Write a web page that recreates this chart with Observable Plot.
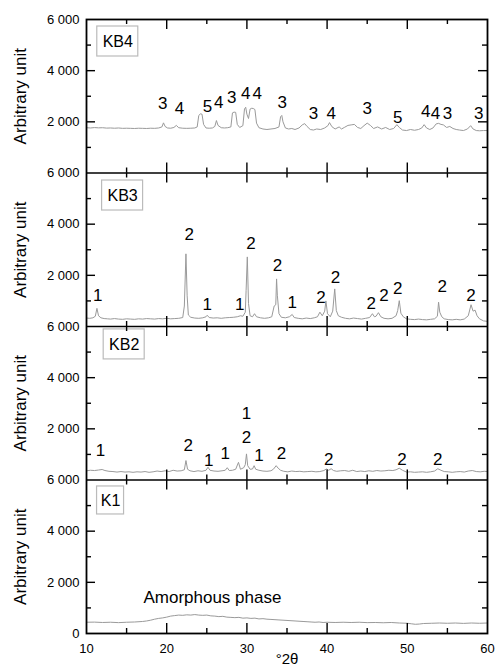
<!DOCTYPE html>
<html><head><meta charset="utf-8">
<script src="https://cdn.jsdelivr.net/npm/d3@7"></script>
<script src="https://cdn.jsdelivr.net/npm/@observablehq/plot@0.6"></script>
<style>body{margin:0;background:#fff;} #chart svg{display:block;} #pad{position:absolute;left:0;top:0;width:2px;height:2px;background:#fff;}</style>
</head><body><div id="chart"></div><div id="pad"></div>
<script>
// ---- data (2θ, arbitrary units) ----
const panels = ["KB4", "KB3", "KB2", "K1"];
const panelOffsets = [18000, 12000, 6000, 0];

const kb4 = [[10,1770],[10.5,1760],[11,1775],[11.5,1765],[12,1770],[12.5,1755],[13,1760],[13.5,1750],[14,1760],[14.5,1745],[15,1750],[15.5,1745],[16,1740],[16.5,1750],[17,1745],[17.5,1740],[18,1750],[18.5,1745],[19,1760],[19.4,1800],[19.6,1960],[19.8,1820],[20.1,1760],[20.5,1750],[20.9,1780],[21.2,1860],[21.5,1770],[22,1750],[22.5,1745],[23,1750],[23.5,1760],[23.8,1800],[24.0,2250],[24.2,2310],[24.4,2300],[24.6,1900],[24.9,1760],[25.3,1750],[25.7,1760],[26.0,1820],[26.2,2050],[26.4,1860],[26.8,1770],[27.2,1760],[27.6,1770],[28.0,1800],[28.2,2350],[28.4,2380],[28.6,2370],[28.8,1900],[29.1,1780],[29.5,1850],[29.7,2500],[29.85,2570],[30.0,2300],[30.2,2130],[30.4,2500],[30.6,2530],[30.8,2520],[31.0,2480],[31.2,1950],[31.5,1770],[32,1720],[32.5,1700],[33,1720],[33.5,1740],[34.0,1800],[34.2,2200],[34.35,2250],[34.5,2000],[34.8,1760],[35.2,1720],[35.6,1740],[36,1700],[36.5,1760],[36.9,1880],[37.2,1930],[37.5,1820],[37.9,1700],[38.3,1680],[38.7,1720],[39.2,1700],[39.7,1760],[40.1,1850],[40.3,1970],[40.6,1810],[41,1720],[41.5,1800],[41.8,1720],[42.2,1790],[42.6,1860],[43.0,1880],[43.4,1900],[43.8,1780],[44.2,1740],[44.6,1850],[45.0,1950],[45.4,1860],[45.8,1740],[46.3,1800],[46.8,1720],[47.3,1780],[47.8,1700],[48.3,1740],[48.7,1890],[49.0,1780],[49.4,1680],[49.9,1660],[50.4,1700],[50.9,1670],[51.4,1700],[51.8,1760],[52.1,1890],[52.4,1760],[52.8,1700],[53.2,1760],[53.6,1920],[53.9,1940],[54.2,1900],[54.5,1880],[54.9,1780],[55.3,1820],[55.7,1740],[56.1,1700],[56.5,1680],[57,1660],[57.5,1720],[57.9,1850],[58.2,1720],[58.6,1660],[59,1650],[59.5,1660],[60,1660]];

const kb3 = [[10,330],[10.4,320],[10.8,340],[11.1,400],[11.3,710],[11.5,420],[11.8,340],[12.2,310],[12.6,300],[13,290],[13.5,310],[14,290],[14.5,280],[15,300],[15.5,290],[16,280],[16.5,300],[17,290],[17.5,310],[18,300],[18.5,290],[19,310],[19.5,300],[20,320],[20.5,300],[21,310],[21.5,320],[22,350],[22.2,800],[22.4,2840],[22.55,1200],[22.7,450],[23,360],[23.5,330],[24,320],[24.5,340],[24.9,380],[25.05,440],[25.3,350],[25.8,330],[26.3,340],[26.8,320],[27.3,340],[27.8,350],[28.3,360],[28.8,380],[29.2,420],[29.5,400],[29.8,560],[29.9,1400],[30.05,2720],[30.2,900],[30.4,420],[30.7,380],[30.95,500],[31.2,380],[31.7,340],[32.2,320],[32.7,340],[33.1,380],[33.4,800],[33.6,850],[33.7,1860],[33.8,1200],[34.0,500],[34.3,360],[34.8,340],[35.3,380],[35.65,470],[35.9,350],[36.4,320],[36.9,300],[37.4,330],[37.9,310],[38.4,340],[38.8,380],[39.1,560],[39.4,420],[39.7,600],[39.85,1000],[40.05,500],[40.4,380],[40.7,600],[40.95,1470],[41.15,620],[41.4,420],[41.8,360],[42.3,320],[42.8,300],[43.3,330],[43.8,310],[44.3,290],[44.8,320],[45.3,350],[45.65,500],[45.9,380],[46.1,400],[46.4,540],[46.7,380],[47.1,320],[47.6,300],[48.1,320],[48.6,420],[48.8,620],[49.0,1010],[49.2,520],[49.5,380],[49.9,300],[50.4,280],[50.9,270],[51.4,290],[51.9,270],[52.4,260],[52.9,280],[53.4,300],[53.75,400],[53.9,950],[54.05,560],[54.3,380],[54.6,300],[55.1,270],[55.6,260],[56.1,280],[56.6,260],[57.1,290],[57.6,420],[57.95,850],[58.2,600],[58.45,640],[58.7,420],[59.0,300],[59.5,220],[60,200]];

const kb2 = [[10,360],[10.5,380],[11,370],[11.5,390],[11.95,410],[12.3,370],[12.8,340],[13.3,330],[13.8,310],[14.3,330],[14.8,310],[15.3,320],[15.8,300],[16.3,320],[16.8,310],[17.3,330],[17.8,300],[18.3,320],[18.8,350],[19.3,330],[19.8,360],[20.3,330],[20.8,380],[21.3,350],[21.8,360],[22.2,400],[22.4,760],[22.6,420],[22.9,360],[23.4,330],[23.9,360],[24.4,340],[24.9,380],[25.15,500],[25.4,380],[25.9,350],[26.4,340],[26.9,360],[27.3,380],[27.55,480],[27.8,370],[28.2,380],[28.6,420],[28.95,690],[29.2,420],[29.6,480],[29.8,600],[29.95,1020],[30.1,560],[30.4,420],[30.7,430],[30.9,560],[31.1,420],[31.5,380],[32,350],[32.5,340],[33,360],[33.3,420],[33.65,560],[33.9,460],[34.2,380],[34.6,340],[35.1,320],[35.6,350],[36.1,330],[36.6,340],[37.1,320],[37.6,330],[38.1,340],[38.6,320],[39.1,330],[39.6,370],[39.9,430],[40.2,380],[40.5,440],[40.8,370],[41.2,340],[41.7,360],[42.2,370],[42.7,340],[43.2,380],[43.7,330],[44.2,350],[44.7,330],[45.2,360],[45.7,340],[46.2,370],[46.7,350],[47.2,360],[47.7,380],[48.2,370],[48.6,400],[49.0,460],[49.4,380],[49.9,310],[50.4,320],[50.9,300],[51.4,310],[51.9,320],[52.4,300],[52.9,320],[53.4,350],[53.8,440],[54.2,380],[54.6,330],[55.1,320],[55.6,300],[56.1,320],[56.6,330],[57.1,310],[57.6,350],[58.1,370],[58.6,330],[59.1,320],[59.6,340],[60,330]];

const k1 = [[10,440],[11,445],[12,430],[13,440],[14,425],[15,440],[16,450],[17,470],[17.5,490],[18,520],[18.5,560],[19,590],[19.5,610],[20,640],[20.5,680],[21,700],[21.5,720],[22,710],[22.5,730],[23,720],[23.5,740],[24,720],[24.5,710],[25,720],[25.5,690],[26,680],[26.5,660],[27,670],[27.5,640],[28,630],[28.5,620],[29,630],[29.5,600],[30,610],[30.5,590],[31,600],[31.5,570],[32,580],[32.5,560],[33,550],[33.5,540],[34,530],[34.5,520],[35,510],[35.5,500],[36,490],[36.5,480],[37,470],[37.5,460],[38,450],[38.5,440],[39,450],[39.5,430],[40,440],[41,430],[42,440],[43,430],[44,440],[45,425],[46,430],[47,420],[48,430],[49,410],[50,400],[50.5,380],[51,360],[51.5,370],[52,390],[53,400],[54,410],[55,400],[56,410],[57,395],[58,410],[59,400],[60,410]];

// peak annotations: [2θ, level, phase number]
const kb4Peaks = [[19.5,2730,"3"],[21.6,2530,"4"],[25.1,2610,"5"],[26.5,2770,"4"],[28.1,2960,"3"],[29.85,3120,"4"],[31.3,3120,"4"],[34.4,2770,"3"],[38.3,2340,"3"],[40.5,2340,"4"],[45.0,2530,"3"],[48.8,2180,"5"],[52.3,2420,"4"],[53.5,2340,"4"],[55.0,2340,"3"],[58.9,2340,"3"]];
const kb3Peaks = [[11.4,1210,"1"],[22.8,3600,"2"],[25.05,860,"1"],[29.1,860,"1"],[30.5,3230,"2"],[33.8,2390,"2"],[35.65,950,"1"],[39.25,1150,"2"],[41.05,1930,"2"],[45.5,890,"2"],[47.1,1210,"2"],[48.8,1470,"2"],[54.35,1560,"2"],[57.95,1210,"2"]];
const kb2Peaks = [[11.75,1150,"1"],[22.7,1350,"2"],[25.25,760,"1"],[27.3,1050,"1"],[29.95,2590,"1"],[29.95,1670,"2"],[31.5,960,"1"],[34.3,1050,"2"],[40.2,790,"2"],[49.35,790,"2"],[53.8,790,"2"]];
const k1Notes = [[25.7,1400,"Amorphous phase"]];
const panelNames = [[13.9,5140,"KB4"],[14.5,5120,"KB3"],[14.7,5300,"KB2"],[13.0,5200,"K1"]];

const xDomain = [10, 60];
const xLabelTicks = [10, 20, 30, 40, 50, 60];
const xMajorTicks = [20, 30, 40, 50];
const xMinorTicks = [15, 25, 35, 45, 55];
const yLabelValues = [0, 2000, 4000, 6000];
const yMajorValues = [2000, 4000];
const yMinorValues = [1000, 3000, 5000];
const yTitle = "Arbitrary unit";
const xTitle = "°2θ";

// ---- build tables ----
const series = [kb4, kb3, kb2, k1];
const traces = series.flatMap((arr, i) => arr.map(([t, v]) => ({panel: panels[i], theta: t, y: v + panelOffsets[i]})));
const peakRows = [kb4Peaks, kb3Peaks, kb2Peaks, k1Notes].flatMap((arr, i) => arr.map(([t, v, s]) => ({theta: t, y: v + panelOffsets[i], text: s})));
const nameRows = panelNames.map(([t, v, s], i) => ({theta: t, y: v + panelOffsets[i], text: s}));
const longNames = nameRows.filter(d => d.text.length > 2);
const shortNames = nameRows.filter(d => d.text.length <= 2);
const yLabelTicks = Array.from(new Set(panelOffsets.flatMap(o => yLabelValues.map(v => v + o)))).sort((a, b) => a - b);
const yMajor = panelOffsets.flatMap(o => yMajorValues.map(v => v + o));
const yMinor = panelOffsets.flatMap(o => yMinorValues.map(v => v + o));
const yTop = d3.max(panelOffsets) + 6000;
const boundaries = [...panelOffsets, yTop];
const upB = boundaries.filter(b => b < yTop);
const downB = boundaries.filter(b => b > 0);
const cross = (xs, bs) => bs.flatMap(b => xs.map(x => ({x, b})));
const fmtY = v => v === 0 ? "0" : `${(((v - 1) % 6000) + 1) / 1000} 000`;

const ink = "black";
const xTickMark = (data, opts) => Plot.ruleX(data, {x: "x", y1: "b", y2: "b", stroke: ink, strokeWidth: 1.4, ...opts});
const yTickMark = (data, opts) => Plot.ruleY(data, {y: d => d, stroke: ink, strokeWidth: 1.4, ...opts});
const nameBox = (data, hw, hh) => Plot.rect(data, {x1: "theta", x2: "theta", y1: "y", y2: "y", fill: "none", stroke: "#bbb", strokeWidth: 1.2, insetLeft: -hw, insetRight: -hw, insetTop: -hh, insetBottom: -hh});

const chart = Plot.plot({
  width: 496, height: 671,
  marginLeft: 86, marginRight: 9, marginTop: 19, marginBottom: 38,
  style: {fontFamily: "Liberation Sans, Arial, sans-serif", fontSize: "12px"},
  x: {domain: xDomain},
  y: {domain: [0, yTop]},
  marks: [
    Plot.line(traces, {x: "theta", y: "y", z: "panel", stroke: "#9a9a9a", strokeWidth: 1}),
    nameBox(longNames, 20.5, 15),
    nameBox(shortNames, 13.5, 14),
    Plot.ruleY(panelOffsets.filter(o => o > 0), {stroke: ink, strokeWidth: 1.6}),
    Plot.frame({stroke: ink, strokeWidth: 1.8}),
    yTickMark(yMajor, {x1: xDomain[0], x2: xDomain[0], insetLeft: 0, insetRight: -9}),
    yTickMark(yMinor, {x1: xDomain[0], x2: xDomain[0], insetLeft: 0, insetRight: -5}),
    yTickMark(yMajor, {x1: xDomain[1], x2: xDomain[1], insetLeft: -9, insetRight: 0}),
    yTickMark(yMinor, {x1: xDomain[1], x2: xDomain[1], insetLeft: -5, insetRight: 0}),
    xTickMark(cross(xMajorTicks, upB), {insetTop: -10, insetBottom: 0}),
    xTickMark(cross(xMinorTicks, upB), {insetTop: -5, insetBottom: 0}),
    xTickMark(cross(xMajorTicks, downB), {insetTop: 0, insetBottom: -10}),
    xTickMark(cross(xMinorTicks, downB), {insetTop: 0, insetBottom: -5}),
    Plot.axisY({ticks: yLabelTicks, tickSize: 0, tickPadding: 7, tickFormat: fmtY, label: null, fontSize: 13}),
    Plot.axisX({ticks: xLabelTicks, tickSize: 0, tickPadding: 10, label: null, fontSize: 13}),
    Plot.text([xTitle], {frameAnchor: "bottom", dy: 30, fontSize: 15}),
    Plot.text(panelOffsets, {y: d => d + 3000, frameAnchor: "left", textAnchor: "middle", dx: -66, rotate: -90, text: () => yTitle, fontSize: 17}),
    Plot.text(peakRows, {x: "theta", y: "y", text: "text", fontSize: 17}),
    Plot.text(nameRows, {x: "theta", y: "y", text: "text", fontSize: 16})
  ]
});

document.getElementById("chart").append(chart);
</script>
</body></html>
